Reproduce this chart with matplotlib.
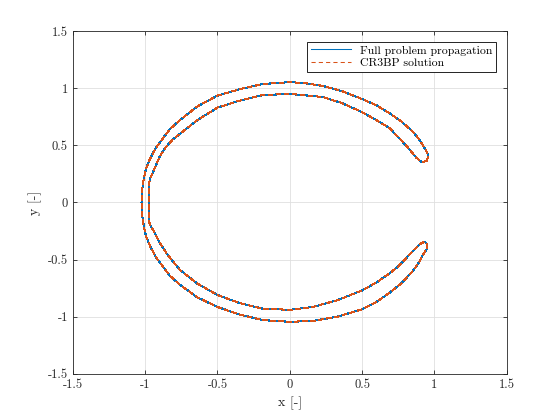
import matplotlib
matplotlib.use("Agg")
import matplotlib.pyplot as plt

# horseshoe orbit (outer arc then inner arc)
x_orbit = [0.95, 0.955, 0.94, 0.92, 0.89, 0.85, 0.77, 0.69, 0.6, 0.5, 0.36, 0.228, 0.1,
           0.0, -0.187, -0.35, -0.5, -0.64, -0.76, -0.83, -0.878, -0.93, -0.967, -0.995,
           -1.01, -1.022, -1.025, -1.022, -1.01, -0.995, -0.967, -0.93, -0.878, -0.83,
           -0.76, -0.64, -0.5, -0.35, -0.187, 0.0, 0.16, 0.33, 0.5, 0.6, 0.69, 0.77,
           0.85, 0.89, 0.92, 0.94, 0.95, 0.947,
           0.935, 0.91, 0.87, 0.81, 0.75, 0.69, 0.6, 0.5, 0.33, 0.16, 0.0, -0.187,
           -0.35, -0.5, -0.64, -0.76, -0.85, -0.91, -0.945, -0.965, -0.972, -0.972,
           -0.965, -0.94, -0.9, -0.86, -0.81, -0.72, -0.64, -0.5, -0.35, -0.187, 0.0,
           0.228, 0.36, 0.5, 0.6, 0.69, 0.75, 0.81, 0.876, 0.91, 0.94]
y_orbit = [0.36, 0.42, 0.46, 0.50, 0.56, 0.62, 0.71, 0.78, 0.85, 0.905, 0.975, 1.02, 1.045,
           1.053, 1.037, 0.99, 0.935, 0.84, 0.72, 0.64, 0.56, 0.47, 0.38, 0.29,
           0.2, 0.1, 0.0, -0.1, -0.2, -0.29, -0.38, -0.47, -0.56, -0.64,
           -0.72, -0.83, -0.915, -0.98, -1.03, -1.045, -1.037, -1.0, -0.935, -0.87, -0.79, -0.71,
           -0.60, -0.53, -0.46, -0.42, -0.40, -0.36,
           -0.345, -0.355, -0.40, -0.48, -0.56, -0.62, -0.70, -0.77, -0.855, -0.915, -0.94, -0.93,
           -0.88, -0.81, -0.71, -0.59, -0.45, -0.33, -0.24, -0.2, -0.17, 0.17,
           0.21, 0.28, 0.40, 0.48, 0.55, 0.64, 0.72, 0.83, 0.89, 0.94, 0.95,
           0.923, 0.87, 0.79, 0.72, 0.65, 0.57, 0.49, 0.39, 0.355, 0.36]

ticks = [-1.5, -1, -0.5, 0, 0.5, 1, 1.5]
tick_labels = ["-1.5", "-1", "-0.5", "0", "0.5", "1", "1.5"]

plt.rcParams["font.family"] = "serif"
plt.rcParams["font.serif"] = ["cmr10"]
plt.rcParams["mathtext.fontset"] = "cm"
plt.rcParams["axes.unicode_minus"] = False

fig = plt.figure(figsize=(5.6, 4.2), dpi=100)
ax = fig.add_axes([0.130, 0.110, 0.775, 0.816])

ax.plot(x_orbit, y_orbit, color=(0, 0.447, 0.741), lw=0.75, antialiased=False,
        label="Full problem propagation")
ax.plot(x_orbit, y_orbit, color=(0.85, 0.325, 0.098), lw=0.75, antialiased=False,
        ls=(0, (4, 3)), label="CR3BP solution")

ax.set_xlim(-1.5, 1.5)
ax.set_ylim(-1.5, 1.5)
ax.set_xticks(ticks)
ax.set_xticklabels(tick_labels)
ax.set_yticks(ticks)
ax.set_yticklabels(tick_labels)
ax.tick_params(direction="in", top=True, right=True, labelsize=9, length=3, width=0.6,
               colors="#262626")
ax.grid(True, color="#dfdfdf", lw=0.6)
ax.set_axisbelow(True)
for s in ax.spines.values():
    s.set_linewidth(0.6)
    s.set_color("#262626")

ax.set_xlabel("x [-]", fontsize=10, color="#262626")
ax.set_ylabel("y [-]", fontsize=10, color="#262626")

leg = ax.legend(loc="upper right", fontsize=8.5, fancybox=False, framealpha=1,
                edgecolor="black", borderaxespad=0.9, handlelength=3.4,
                borderpad=0.3, labelspacing=0.2)
leg.get_frame().set_linewidth(0.6)
for h in leg.get_lines():
    h.set_antialiased(True)

fig.savefig("out.png", dpi=100)
